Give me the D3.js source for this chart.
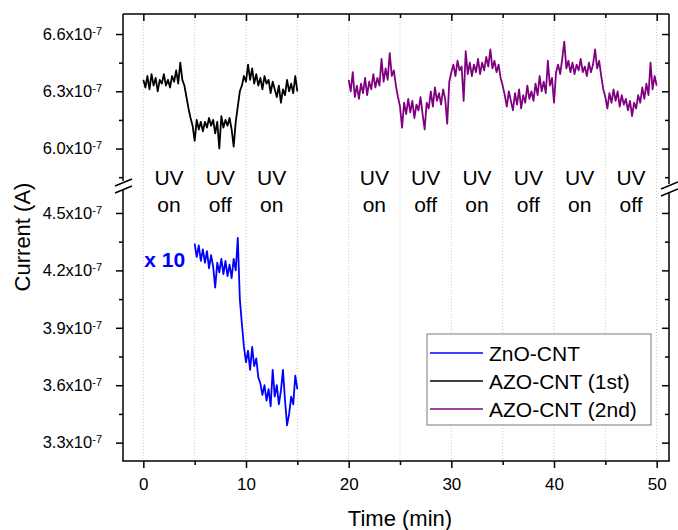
<!DOCTYPE html>
<html>
<head>
<meta charset="utf-8">
<script src="https://cdn.jsdelivr.net/npm/d3@7"></script>
<style>
  body { margin: 0; background: #fff; }
  svg { font-family: "Liberation Sans", Arial, sans-serif; }
</style>
</head>
<body>
<div id="chart"></div>
<script>
// currents in units of 1e-7 A, sampled every 0.2 min
const sampleStep = 0.2;

// AZO-CNT (1st), starts at 0 min
const azoFirstStart = 0;
const azoFirst = [
  6.36, 6.32, 6.38, 6.31, 6.39, 6.33, 6.37, 6.30, 6.36, 6.34,
  6.39, 6.33, 6.36, 6.32, 6.38, 6.35, 6.41, 6.34, 6.45, 6.36,
  6.33, 6.27, 6.21, 6.16, 6.12, 6.04, 6.15, 6.10, 6.14, 6.09,
  6.14, 6.11, 6.16, 6.12, 6.15, 6.08, 6.14, 6.00, 6.17, 6.11,
  6.15, 6.12, 6.16, 6.10, 6.01, 6.14, 6.22, 6.30, 6.33, 6.38,
  6.35, 6.44, 6.36, 6.42, 6.34, 6.39, 6.33, 6.37, 6.31, 6.38,
  6.34, 6.36, 6.29, 6.35, 6.31, 6.27, 6.33, 6.24, 6.31, 6.28,
  6.36, 6.30, 6.34, 6.29, 6.38, 6.30
];

// ZnO-CNT (shown x 10), starts at 5 min
const znoStart = 5;
const zno = [
  4.34, 4.27, 4.33, 4.25, 4.31, 4.24, 4.30, 4.21, 4.28, 4.22,
  4.11, 4.24, 4.19, 4.26, 4.18, 4.25, 4.17, 4.23, 4.16, 4.26,
  4.20, 4.37, 4.05, 3.92, 3.80, 3.72, 3.78, 3.68, 3.80, 3.70,
  3.74, 3.64, 3.61, 3.55, 3.60, 3.52, 3.58, 3.49, 3.68, 3.54,
  3.60, 3.50, 3.57, 3.68, 3.52, 3.39, 3.45, 3.54, 3.50, 3.65,
  3.58
];

// AZO-CNT (2nd), starts at 20 min
const azoSecondStart = 20;
const azoSecond = [
  6.36, 6.30, 6.40, 6.27, 6.33, 6.26, 6.34, 6.29, 6.37, 6.28,
  6.35, 6.31, 6.39, 6.32, 6.37, 6.33, 6.47, 6.35, 6.42, 6.36,
  6.50, 6.38, 6.41, 6.33, 6.27, 6.22, 6.11, 6.24, 6.18, 6.26,
  6.19, 6.25, 6.16, 6.23, 6.20, 6.27, 6.18, 6.10, 6.24, 6.21,
  6.30, 6.22, 6.32, 6.25, 6.29, 6.23, 6.31, 6.26, 6.13, 6.35,
  6.40, 6.44, 6.38, 6.46, 6.41, 6.43, 6.25, 6.51, 6.39, 6.45,
  6.38, 6.44, 6.40, 6.47, 6.39, 6.45, 6.41, 6.48, 6.43, 6.52,
  6.42, 6.46, 6.40, 6.44, 6.37, 6.33, 6.28, 6.22, 6.30, 6.25,
  6.20, 6.29, 6.23, 6.31, 6.21, 6.28, 6.24, 6.33, 6.26, 6.30,
  6.25, 6.34, 6.28, 6.38, 6.30, 6.35, 6.29, 6.46, 6.33, 6.37,
  6.24, 6.40, 6.44, 6.39, 6.47, 6.56, 6.42, 6.46, 6.40, 6.45,
  6.39, 6.44, 6.41, 6.47, 6.40, 6.43, 6.38, 6.45, 6.40, 6.44,
  6.52, 6.42, 6.46, 6.38, 6.31, 6.27, 6.21, 6.29, 6.24, 6.31,
  6.25, 6.30, 6.22, 6.28, 6.23, 6.26, 6.20, 6.25, 6.17, 6.24,
  6.21, 6.28, 6.24, 6.32, 6.26, 6.34, 6.28, 6.45, 6.31, 6.38,
  6.33
];

const seriesNames = ["ZnO-CNT", "AZO-CNT (1st)", "AZO-CNT (2nd)"];
const seriesColors = ["#0000ff", "#000000", "#800080"];

const xTicks = [0, 10, 20, 30, 40, 50];
const xMinorTicks = [5, 15, 25, 35, 45];
const gridTimes = [0, 5, 10, 15, 20, 25, 30, 35, 40, 45, 50];
const upperTicks = [6.0, 6.3, 6.6];
const upperMinorTicks = [5.85, 6.15, 6.45];
const lowerTicks = [3.3, 3.6, 3.9, 4.2, 4.5];
const lowerMinorTicks = [3.45, 3.75, 4.05, 4.35];

const uvBounds = [0, 5, 10, 15, 20, 25, 30, 35, 40, 45, 50];
const uvStates = ["on", "off", "on", null, "on", "off", "on", "off", "on", "off"];

const width = 678;
const height = 530;
const margin = { top: 14, right: 9, bottom: 69, left: 123 };
const plotRight = width - margin.right;
const plotBottom = height - margin.bottom;
const breakTop = 181;
const breakBottom = 190;

const svg = d3
  .select("#chart")
  .append("svg")
  .attr("width", width)
  .attr("height", height);

const xScale = d3.scaleLinear().domain([-1.98, 51.2]).range([margin.left, plotRight]);
const yUpper = d3.scaleLinear().domain([5.83, 6.705]).range([breakTop, margin.top]);
const yLower = d3.scaleLinear().domain([3.204, 4.62]).range([plotBottom, breakBottom]);

// dotted vertical grid
svg
  .append("g")
  .selectAll("line")
  .data(gridTimes)
  .enter()
  .append("line")
  .attr("x1", (d) => xScale(d))
  .attr("x2", (d) => xScale(d))
  .attr("y1", margin.top)
  .attr("y2", plotBottom)
  .attr("stroke", "#c8c8c8")
  .attr("stroke-width", 1)
  .attr("stroke-dasharray", "1,2");

function toSeries(values, start) {
  return values.map((v, i) => ({ t: start + i * sampleStep, v: v }));
}

const lineUpper = d3.line().x((d) => xScale(d.t)).y((d) => yUpper(d.v));
const lineLower = d3.line().x((d) => xScale(d.t)).y((d) => yLower(d.v));

svg
  .append("path")
  .datum(toSeries(zno, znoStart))
  .attr("fill", "none")
  .attr("stroke", seriesColors[0])
  .attr("stroke-width", 1.8)
  .attr("stroke-linejoin", "round")
  .attr("d", lineLower);

svg
  .append("path")
  .datum(toSeries(azoFirst, azoFirstStart))
  .attr("fill", "none")
  .attr("stroke", seriesColors[1])
  .attr("stroke-width", 1.8)
  .attr("stroke-linejoin", "round")
  .attr("d", lineUpper);

svg
  .append("path")
  .datum(toSeries(azoSecond, azoSecondStart))
  .attr("fill", "none")
  .attr("stroke", seriesColors[2])
  .attr("stroke-width", 1.8)
  .attr("stroke-linejoin", "round")
  .attr("d", lineUpper);

// axes
function styleAxis(g) {
  g.select(".domain").remove();
  g.selectAll(".tick line").attr("stroke", "#000").attr("stroke-width", 1.5);
}

function expLabel(g) {
  g.selectAll(".tick text").each(function (d) {
    const t = d3.select(this);
    t.text(null);
    t.append("tspan").text(d.toFixed(1) + "x10");
    t.append("tspan").attr("dy", "-0.45em").attr("font-size", 11).text("-7");
  });
}

[[yUpper, upperTicks, upperMinorTicks], [yLower, lowerTicks, lowerMinorTicks]].forEach(
  ([scale, major, minor]) => {
    svg
      .append("g")
      .attr("transform", `translate(${margin.left},0)`)
      .call(d3.axisLeft(scale).tickValues(major).tickSize(7).tickPadding(14))
      .call(styleAxis)
      .call(expLabel)
      .selectAll("text")
      .attr("font-size", 16.5)
      .attr("fill", "#000");
    svg
      .append("g")
      .attr("transform", `translate(${margin.left},0)`)
      .call(d3.axisLeft(scale).tickValues(minor).tickSize(4).tickFormat(""))
      .call(styleAxis);
    svg
      .append("g")
      .attr("transform", `translate(${plotRight},0)`)
      .call(d3.axisLeft(scale).tickValues(major).tickSize(7).tickFormat(""))
      .call(styleAxis);
    svg
      .append("g")
      .attr("transform", `translate(${plotRight},0)`)
      .call(d3.axisLeft(scale).tickValues(minor).tickSize(4).tickFormat(""))
      .call(styleAxis);
  }
);

svg
  .append("g")
  .attr("transform", `translate(0,${plotBottom})`)
  .call(d3.axisBottom(xScale).tickValues(xTicks).tickSize(7).tickPadding(10).tickFormat(d3.format("d")))
  .call(styleAxis)
  .selectAll("text")
  .attr("font-size", 17)
  .attr("fill", "#000");
svg
  .append("g")
  .attr("transform", `translate(0,${plotBottom})`)
  .call(d3.axisBottom(xScale).tickValues(xMinorTicks).tickSize(4).tickFormat(""))
  .call(styleAxis);
svg
  .append("g")
  .attr("transform", `translate(0,${margin.top})`)
  .call(d3.axisBottom(xScale).tickValues(xTicks).tickSize(7).tickFormat(""))
  .call(styleAxis);
svg
  .append("g")
  .attr("transform", `translate(0,${margin.top})`)
  .call(d3.axisBottom(xScale).tickValues(xMinorTicks).tickSize(4).tickFormat(""))
  .call(styleAxis);

// frame with broken vertical axes
const frame = svg.append("g").attr("stroke", "#000").attr("stroke-width", 1.5);
frame.append("line").attr("x1", margin.left).attr("x2", plotRight).attr("y1", margin.top).attr("y2", margin.top);
frame.append("line").attr("x1", margin.left - 0.75).attr("x2", plotRight + 0.75).attr("y1", plotBottom).attr("y2", plotBottom);
[margin.left, plotRight].forEach((x, i) => {
  const shift = i === 0 ? 0 : 3;
  frame.append("line").attr("x1", x).attr("x2", x).attr("y1", margin.top).attr("y2", breakTop + shift);
  frame.append("line").attr("x1", x).attr("x2", x).attr("y1", breakBottom + shift).attr("y2", plotBottom);
  frame.append("line").attr("x1", x - 8).attr("x2", x + 9).attr("y1", breakTop + 5 + shift).attr("y2", breakTop - 2 + shift);
  frame.append("line").attr("x1", x - 8).attr("x2", x + 9).attr("y1", breakBottom + 3 + shift).attr("y2", breakBottom - 4 + shift);
});

// UV on / off labels
const uvGroup = svg.append("g").attr("font-size", 21).attr("text-anchor", "middle").attr("fill", "#000");
uvStates.forEach((s, i) => {
  if (!s) return;
  const cx = xScale((uvBounds[i] + uvBounds[i + 1]) / 2);
  uvGroup.append("text").attr("x", cx).attr("y", 185).text("UV");
  uvGroup.append("text").attr("x", cx).attr("y", 212).text(s);
});

svg
  .append("text")
  .attr("x", xScale(0) + 1)
  .attr("y", yLower(4.2) - 3)
  .attr("font-size", 21)
  .attr("font-weight", "bold")
  .attr("fill", seriesColors[0])
  .text("x 10");

// axis titles
svg
  .append("text")
  .attr("x", 400)
  .attr("y", 526)
  .attr("text-anchor", "middle")
  .attr("font-size", 22)
  .text("Time (min)");

svg
  .append("text")
  .attr("transform", "rotate(-90)")
  .attr("x", -237)
  .attr("y", 30)
  .attr("text-anchor", "middle")
  .attr("font-size", 22)
  .text("Current (A)");

// legend
const legend = svg.append("g").attr("transform", "translate(427,334)");
legend
  .append("rect")
  .attr("width", 224)
  .attr("height", 91)
  .attr("fill", "#fff")
  .attr("stroke", "#7a7a7a")
  .attr("stroke-width", 1);
seriesNames.forEach((name, i) => {
  const y = 19 + i * 28;
  legend
    .append("line")
    .attr("x1", 3)
    .attr("x2", 56)
    .attr("y1", y)
    .attr("y2", y)
    .attr("stroke", seriesColors[i])
    .attr("stroke-width", 1.5);
  legend
    .append("text")
    .attr("x", 62)
    .attr("y", y)
    .attr("dy", "0.36em")
    .attr("font-size", 21)
    .text(name);
});
</script>
</body>
</html>
